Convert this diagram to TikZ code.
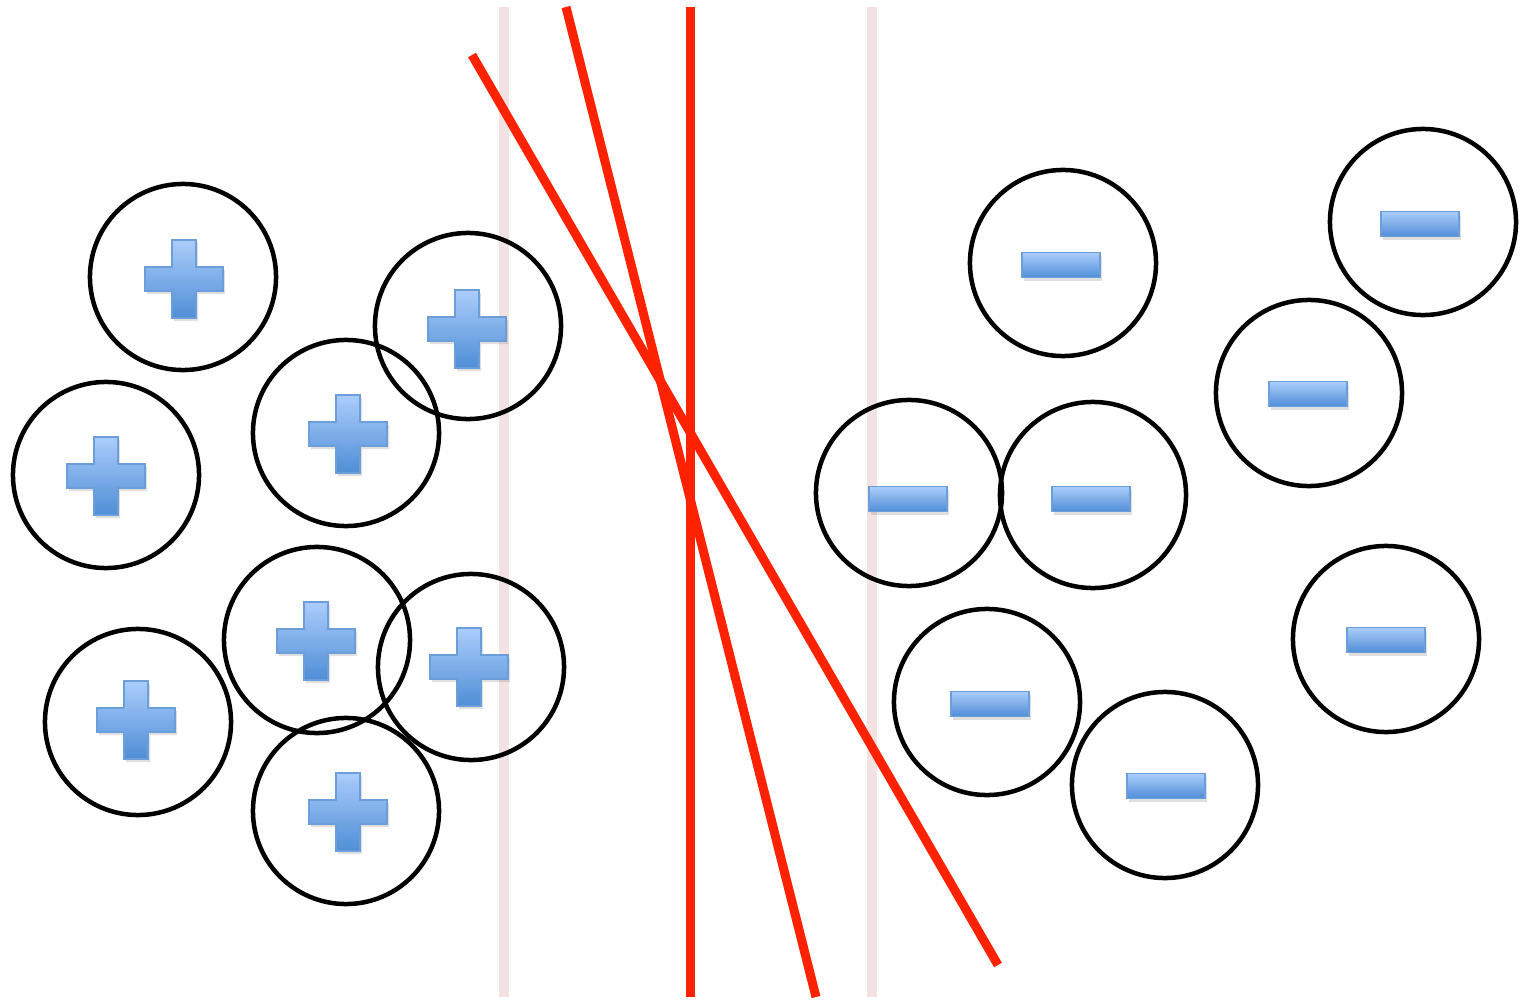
\documentclass[tikz,border=0pt]{standalone}
\usetikzlibrary{shadows}
\definecolor{cutRed}{HTML}{FF2200}
\definecolor{marginPink}{HTML}{F4E1E1}
\definecolor{signTop}{HTML}{ABCDFB}
\definecolor{signBottom}{HTML}{4F8ED6}
\definecolor{signEdge}{HTML}{6C9FD9}
\tikzset{
  ion/.style={circle, draw=black, line width=0.045cm, inner sep=0pt, minimum size=1.86cm},
  ionsign/.style={top color=signTop, bottom color=signBottom, draw=signEdge, line width=0.3pt,
    drop shadow={opacity=0.25, shadow xshift=0.02cm, shadow yshift=-0.03cm}},
  cutline/.style={draw=cutRed, line width=0.09cm},
  margin/.style={draw=marginPink, line width=0.1cm}
}
\newcommand{\plusSign}[1]{
  \path[ionsign] (#1) ++(-12,-39) -- ++(24,0) -- ++(0,27) -- ++(27,0) -- ++(0,24)
    -- ++(-27,0) -- ++(0,27) -- ++(-24,0) -- ++(0,-27) -- ++(-27,0) -- ++(0,-24)
    -- ++(27,0) -- cycle;
}
\newcommand{\minusSign}[1]{
  \path[ionsign] (#1) ++(-39,-12.5) rectangle ++(78,25);
}
\begin{document}
\begin{tikzpicture}[x=0.01cm, y=-0.01cm]
  \useasboundingbox (0,0) rectangle (1520,1000);

  % margins
  \coordinate (mlTop) at (504,7);
  \coordinate (mlBot) at (504,997);
  \coordinate (mrTop) at (872,7);
  \coordinate (mrBot) at (872,997);
  \draw[margin] (mlTop) -- (mlBot);
  \draw[margin] (mrTop) -- (mrBot);

  % positive ions: circle centre, then sign centre
  \foreach \n/\x/\y/\sx/\sy in {1/183/277/184/279, 2/468/326/467/329, 3/346/433/348/434,
      4/106/475/106/476, 5/317/640/316/641, 6/471/667/469/667,
      7/138/722/136/720, 8/346/811/348/812} {
    \node[ion] (pos\n) at (\x,\y) {};
    \coordinate (posSign\n) at (\sx,\sy);
    \plusSign{posSign\n}
  }

  % negative ions
  \foreach \n/\x/\y/\sx/\sy in {1/1063/263/1061/265, 2/1423/222/1420/224,
      3/1309/393/1308/394, 4/909/493/908/499, 5/1093/495/1091/499,
      6/1386/639/1386/640, 7/987/702/990/704, 8/1165/785/1166/786} {
    \node[ion] (neg\n) at (\x,\y) {};
    \coordinate (negSign\n) at (\sx,\sy);
    \minusSign{negSign\n}
  }

  % separating lines
  \coordinate (cutATop) at (690,7);
  \coordinate (cutABot) at (690,997);
  \coordinate (cutBTop) at (566,7);
  \coordinate (cutBBot) at (816,997);
  \coordinate (cutCTop) at (472,55);
  \coordinate (cutCBot) at (998,965);
  \draw[cutline] (cutATop) -- (cutABot);
  \draw[cutline] (cutBTop) -- (cutBBot);
  \draw[cutline] (cutCTop) -- (cutCBot);
\end{tikzpicture}
\end{document}
